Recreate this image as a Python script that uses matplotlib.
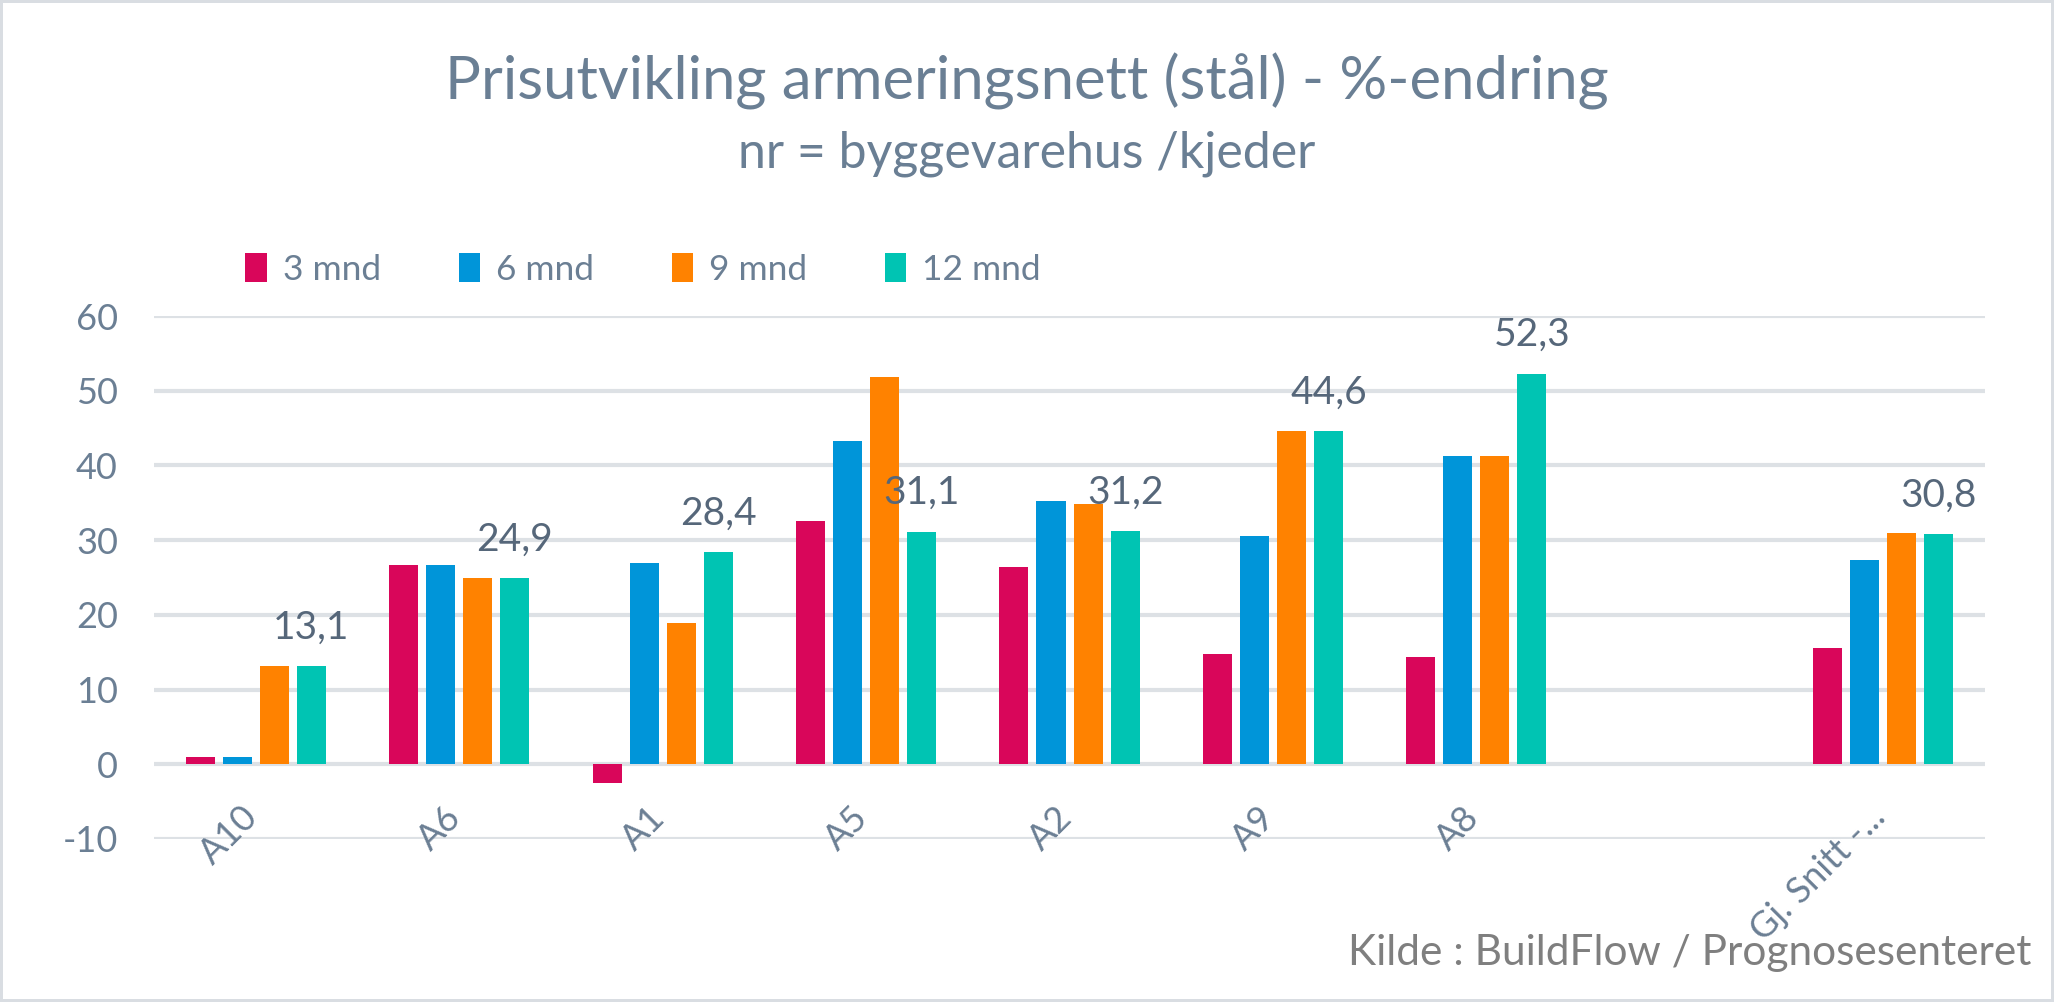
import numpy as np
import matplotlib
matplotlib.use("Agg")
import matplotlib.pyplot as plt

plt.rcParams['font.family'] = ['Lato', 'DejaVu Sans']
plt.rcParams['axes.unicode_minus'] = False

# --- data ---
categories = ['A10', 'A6', 'A1', 'A5', 'A2', 'A9', 'A8', '', 'Gj. Snitt -...']
series_names = ['3 mnd', '6 mnd', '9 mnd', '12 mnd']
m3 = [1.0, 26.7, -2.5, 32.5, 26.4, 14.7, 14.4, np.nan, 15.6]
m6 = [1.0, 26.7, 26.9, 43.3, 35.3, 30.6, 41.2, np.nan, 27.4]
m9 = [13.1, 24.9, 18.9, 51.8, 34.8, 44.6, 41.2, np.nan, 31.0]
m12 = [13.1, 24.9, 28.4, 31.1, 31.2, 44.6, 52.3, np.nan, 30.8]
label_12 = [True, True, True, True, True, True, True, False, True]

colors = ['#D9065A', '#0095D9', '#FF8200', '#00C4B3']
grid_col = '#DDE1E5'
tick_col = '#6B7F94'
label_col = '#56677A'

fig = plt.figure(figsize=(20.54, 10.02), dpi=100, edgecolor='#D9DDE2', linewidth=4)
ax = fig.add_axes([0.075, 0.1627, 0.8914, 0.5219])

x = np.arange(len(categories))
pitch = 0.182
width = 0.1426
for k, vals in enumerate([m3, m6, m9, m12]):
    ax.bar(x + (k - 1.5) * pitch, vals, width, color=colors[k], label=series_names[k], zorder=3)

# data labels for 12 mnd
for i, v in enumerate(m12):
    if label_12[i]:
        ax.annotate(f'{v:.1f}'.replace('.', ','), (x[i] + 1.5 * pitch, v),
                    xytext=(0, 15), textcoords='offset points', ha='center', va='bottom',
                    fontsize=28, color=label_col)

ax.set_xlim(-0.5, len(categories) - 0.5)
ax.set_ylim(-10, 60)
ax.set_yticks(range(-10, 61, 10))
ax.yaxis.grid(True, color=grid_col, linewidth=3, zorder=0)
ax.tick_params(axis='y', length=0, labelsize=26, labelcolor=tick_col, pad=26)
ax.tick_params(axis='x', length=0, labelbottom=False)
for s in ax.spines.values():
    s.set_visible(False)

# category labels under the zero line, rotated
for i, c in enumerate(categories):
    ax.annotate(c, (x[i], 0), xytext=(6, -26), textcoords='offset points',
                rotation=45, ha='right', va='top', fontsize=26, color=tick_col)

fig.text(0.5, 0.919, 'Prisutvikling armeringsnett (stål) - %-endring', ha='center', va='center',
         fontsize=43, color='#6A7F94')
fig.text(0.5, 0.847, 'nr = byggevarehus /kjeder', ha='center', va='center',
         fontsize=36, color='#6A7F94')

fig.legend(loc='center left', bbox_to_anchor=(0.104, 0.731), ncol=4, frameon=False,
           fontsize=25.5, labelcolor=tick_col, handlelength=0.6, handleheight=0.9,
           handletextpad=0.45, columnspacing=2.2)

fig.text(0.989, 0.049, 'Kilde : BuildFlow / Prognosesenteret', ha='right', va='center',
         fontsize=30.5, color='#7F7F7F')

fig.savefig('out.png', dpi=100, edgecolor=fig.get_edgecolor())
